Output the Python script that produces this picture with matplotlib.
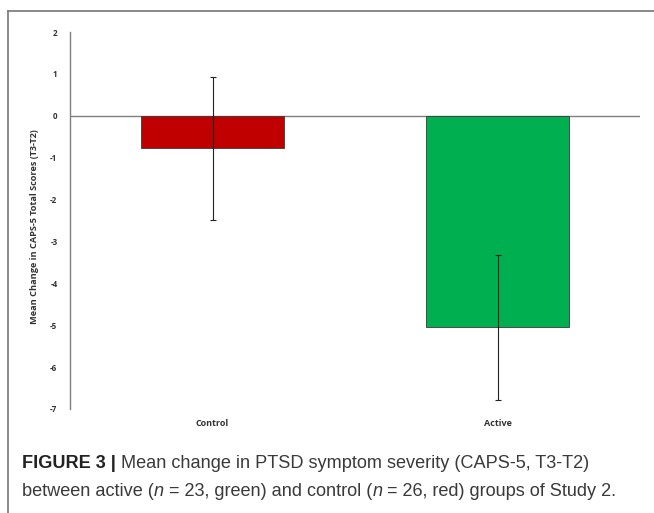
import matplotlib
matplotlib.use("Agg")
import matplotlib.pyplot as plt
from matplotlib.lines import Line2D
from matplotlib.transforms import IdentityTransform

categories = ["Control", "Active"]
means = [-0.78, -5.05]
errors = [1.70, 1.73]
colors = ["#C00000", "#00B050"]
yticks = [2, 1, 0, -1, -2, -3, -4, -5, -6, -7]
ylabel = "Mean Change in CAPS-5 Total Scores (T3-T2)"

fig = plt.figure(figsize=(6.54, 5.13), dpi=100)
ax = fig.add_axes([70/654, 1-409/513, 570/654, 377/513])

x = list(range(len(categories)))
ax.bar(x, means, width=0.5, color=colors, edgecolor="#3a3a3a", linewidth=0.6, zorder=2)
ax.errorbar(x, means, yerr=errors, fmt="none", ecolor="#222222", elinewidth=0.8,
            capsize=2, capthick=0.8, zorder=3)
ax.axhline(0, color="#7f7f7f", linewidth=1.0, zorder=1)

ax.set_xlim(-0.5, 1.5)
ax.set_ylim(-7, 2)
ax.set_yticks(yticks)
ax.set_yticklabels([str(t) for t in yticks], fontfamily="Open Sans", fontweight="bold",
                   fontsize=5.8, color="#333333")
ax.set_xticks(x)
ax.set_xticklabels(categories, fontfamily="Open Sans", fontweight="bold", fontsize=6.5,
                   color="#333333")
ax.tick_params(axis="y", length=0, pad=9)
ax.tick_params(axis="x", length=0, pad=7)
for s in ["top", "right", "bottom"]:
    ax.spines[s].set_visible(False)
ax.spines["left"].set_color("#7f7f7f")
ax.spines["left"].set_linewidth(1.0)
ax.set_ylabel(ylabel, fontfamily="Open Sans", fontweight="bold", fontsize=6.6,
              color="#333333")
ax.yaxis.set_label_coords(-0.054, 0.484)

# frame lines
fig.add_artist(Line2D([8/654, 1], [1-11/513, 1-11/513], transform=fig.transFigure,
                      color="#808080", linewidth=1.3))
fig.add_artist(Line2D([8/654, 8/654], [0, 1-11/513], transform=fig.transFigure,
                      color="#808080", linewidth=1.3))

# caption
renderer = fig.canvas.get_renderer()
fs = 13.1

def line(pieces, x0, y0):
    xp = x0
    for txt, kw in pieces:
        opts = dict(fontsize=fs, family="Liberation Sans", color="#3a3a3a",
                    va="baseline", ha="left")
        opts.update(kw)
        t = fig.text(xp, y0, txt, transform=IdentityTransform(), **opts)
        bb = t.get_window_extent(renderer=renderer)
        xp = bb.x1

line([("FIGURE 3 | ", dict(fontweight="bold", color="#222222")),
      ("Mean change in PTSD symptom severity (CAPS-5, T3-T2)", {})], 22, 513-468)
line([("between active (", {}), ("n", dict(style="italic")), (" = 23, green) and control (", {}),
      ("n", dict(style="italic")), (" = 26, red) groups of Study 2.", {})], 22, 513-496)

fig.savefig("out.png", dpi=100)
